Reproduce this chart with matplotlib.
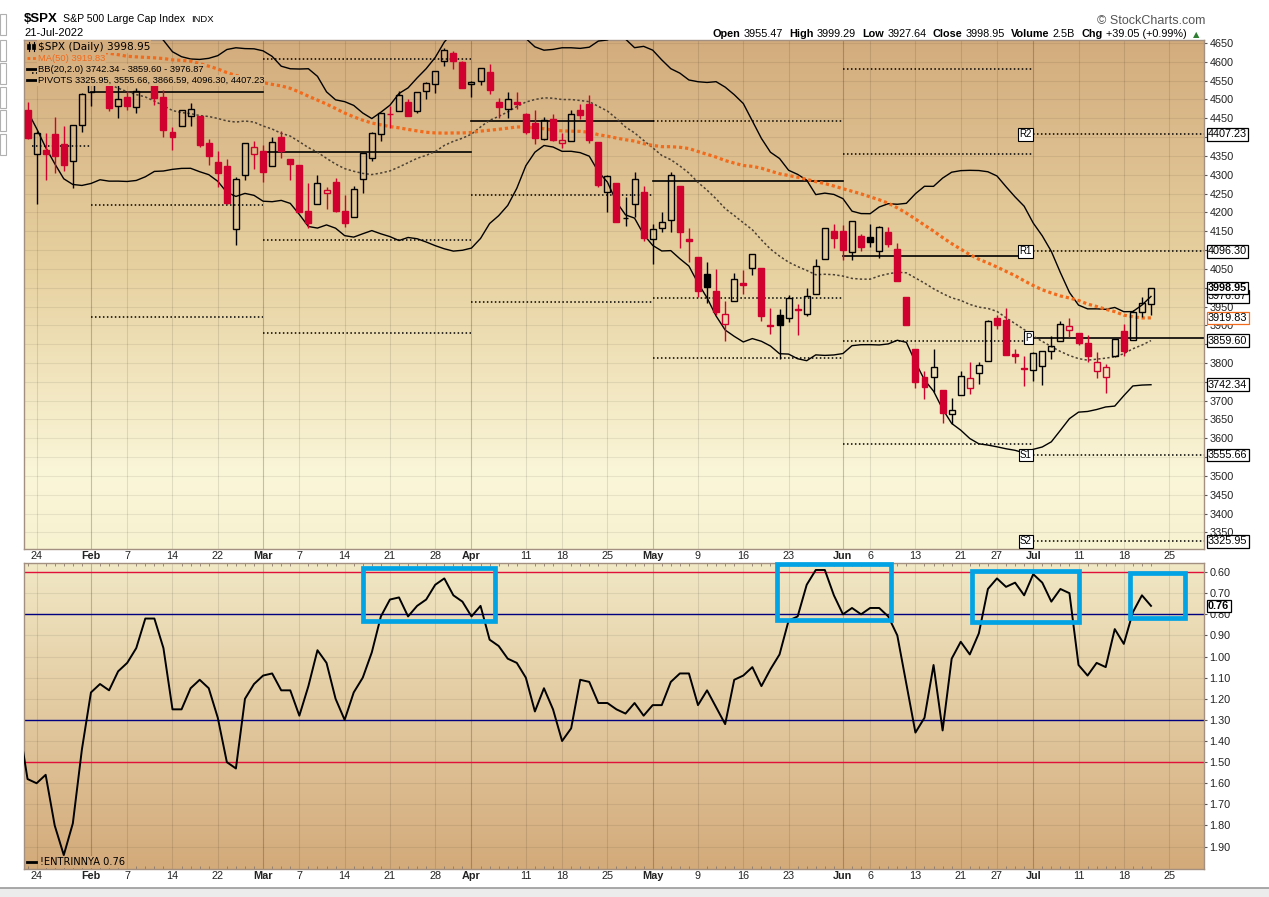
import numpy as np
import pandas as pd
import matplotlib
matplotlib.use("Agg")
import matplotlib.pyplot as plt
from matplotlib.patches import Rectangle
from matplotlib.lines import Line2D
from matplotlib.offsetbox import TextArea, HPacker, AnnotationBbox
import matplotlib.transforms as mtransforms

plt.rcParams['font.family'] = ['Liberation Sans', 'DejaVu Sans']

# ---------------- data ----------------
holidays = ["2022-02-21", "2022-04-15", "2022-05-30", "2022-06-20", "2022-07-04"]
cal = pd.bdate_range("2022-01-21", "2022-07-29", freq="C", holidays=holidays)

opens = [
    4471.38, 4356.32, 4366.64, 4408.43, 4380.58, 4336.19, 4431.79,
    4519.57, 4566.39, 4535.41, 4482.79, 4505.75, 4480.02, 4547.00, 4553.24, 4506.27, 4412.61,
    4429.28, 4455.75, 4456.06, 4384.57, 4332.74, 4324.01, 4155.77, 4298.38, 4354.17,
    4363.14, 4322.56, 4401.31, 4342.12, 4327.01, 4202.66, 4223.10, 4252.55, 4279.50, 4202.75,
    4188.82, 4288.14, 4345.11, 4407.34, 4462.40, 4469.10, 4493.10, 4469.98, 4522.66, 4541.09,
    4602.86, 4624.20, 4599.02,
    4540.32, 4547.97, 4572.45, 4494.17, 4474.65, 4494.15, 4462.64, 4437.59, 4394.30, 4449.12,
    4385.63, 4390.63, 4472.26, 4489.17, 4385.83, 4255.34, 4278.14, 4186.52, 4222.58, 4253.75,
    4130.61, 4159.78, 4181.18, 4270.43, 4128.17, 4081.27, 4035.18, 3990.08, 3903.95, 3963.90,
    4013.02, 4052.00, 4051.98, 3899.00, 3927.76, 3919.42, 3942.94, 3929.59, 3984.60, 4077.43, 4151.09,
    4149.78, 4095.41, 4137.57, 4134.72, 4096.47, 4147.12, 4101.65, 3974.39, 3838.15, 3763.52,
    3764.05, 3728.18, 3665.90, 3715.31, 3733.89, 3774.71, 3805.34, 3920.76, 3913.00, 3825.09, 3785.99,
    3781.00, 3792.61, 3831.98, 3858.85, 3888.26, 3880.94, 3851.95, 3779.67, 3763.99, 3818.00,
    3883.79, 3860.73, 3935.32, 3955.47]
highs = [
    4494.52, 4417.35, 4411.01, 4453.23, 4428.74, 4432.72, 4516.89,
    4550.49, 4595.31, 4542.88, 4539.66, 4521.86, 4531.32, 4590.03, 4588.92, 4526.33, 4426.22,
    4472.77, 4489.55, 4456.06, 4394.60, 4362.12, 4341.51, 4294.73, 4385.34, 4388.84,
    4378.45, 4401.48, 4416.78, 4342.12, 4327.01, 4276.94, 4299.40, 4268.28, 4291.01, 4247.57,
    4271.05, 4358.90, 4412.67, 4465.40, 4481.75, 4522.00, 4501.07, 4520.58, 4546.03, 4575.65,
    4637.30, 4627.77, 4603.07,
    4548.70, 4583.50, 4593.45, 4503.94, 4521.16, 4520.41, 4464.35, 4471.00, 4453.92, 4460.46,
    4410.31, 4471.03, 4488.29, 4512.94, 4385.83, 4299.02, 4278.14, 4240.71, 4308.45, 4269.68,
    4169.81, 4200.10, 4307.66, 4270.43, 4157.69, 4081.27, 4068.82, 4049.09, 3964.80, 4038.88,
    4046.46, 4090.72, 4051.98, 3945.96, 3943.42, 3981.88, 3955.68, 3999.33, 4075.14, 4158.49, 4168.34,
    4166.54, 4177.51, 4142.67, 4168.78, 4164.86, 4160.14, 4119.10, 3974.39, 3838.15, 3778.18,
    3837.56, 3728.18, 3707.71, 3779.65, 3801.79, 3802.58, 3913.65, 3927.72, 3945.86, 3836.50, 3818.99,
    3829.82, 3832.19, 3870.91, 3910.63, 3918.50, 3880.94, 3873.41, 3829.44, 3796.41, 3863.62,
    3902.44, 3939.81, 3974.13, 3999.29]
lows = [
    4395.34, 4222.62, 4287.11, 4304.80, 4309.50, 4264.71, 4414.02,
    4483.53, 4544.32, 4470.39, 4451.50, 4471.47, 4465.40, 4547.00, 4484.31, 4401.41, 4364.84,
    4429.28, 4429.68, 4373.81, 4327.22, 4267.11, 4221.51, 4114.65, 4286.83, 4315.12,
    4279.54, 4322.56, 4345.56, 4284.98, 4199.85, 4157.87, 4223.10, 4209.80, 4200.49, 4161.72,
    4187.90, 4251.99, 4335.65, 4390.57, 4424.30, 4469.10, 4455.81, 4465.17, 4501.07, 4517.69,
    4589.66, 4581.32, 4530.41,
    4507.57, 4539.21, 4514.17, 4450.04, 4450.30, 4474.60, 4408.38, 4381.34, 4392.70, 4390.77,
    4370.30, 4390.63, 4448.76, 4384.47, 4267.62, 4200.82, 4175.04, 4162.90, 4188.63, 4124.28,
    4062.51, 4147.08, 4148.91, 4106.01, 4067.91, 3975.48, 3958.17, 3928.82, 3858.87, 3963.90,
    3983.99, 4033.93, 3911.91, 3876.58, 3810.32, 3909.04, 3875.13, 3925.03, 3984.60, 4077.43, 4104.88,
    4073.85, 4074.37, 4098.67, 4109.18, 4080.19, 4107.20, 4017.17, 3900.16, 3734.30, 3705.68,
    3722.30, 3639.77, 3636.87, 3715.31, 3717.69, 3743.52, 3805.34, 3889.66, 3820.14, 3799.02, 3738.67,
    3752.10, 3742.06, 3809.37, 3858.85, 3869.34, 3847.22, 3802.36, 3759.07, 3721.56, 3817.18,
    3818.63, 3860.73, 3922.03, 3927.64]
closes = [
    4397.94, 4410.13, 4356.45, 4349.93, 4326.51, 4431.85, 4515.55,
    4546.54, 4589.38, 4477.44, 4500.53, 4483.87, 4521.54, 4587.18, 4504.08, 4418.64, 4401.67,
    4471.07, 4475.01, 4380.26, 4348.87, 4304.76, 4225.50, 4288.70, 4384.65, 4373.94,
    4306.26, 4386.54, 4363.49, 4328.87, 4201.09, 4170.70, 4277.88, 4259.52, 4204.31, 4173.11,
    4262.45, 4357.86, 4411.67, 4463.12, 4461.18, 4511.61, 4456.24, 4520.16, 4543.06, 4575.52,
    4631.60, 4602.45, 4530.41,
    4545.86, 4582.64, 4525.12, 4481.15, 4500.21, 4488.28, 4412.53, 4397.45, 4446.59, 4392.59,
    4391.69, 4462.21, 4459.45, 4393.66, 4271.78, 4296.12, 4175.20, 4183.96, 4287.50, 4131.93,
    4155.38, 4175.48, 4300.17, 4146.87, 4123.34, 3991.24, 4001.05, 3935.18, 3930.08, 4023.89,
    4008.01, 4088.85, 3923.68, 3900.79, 3901.36, 3973.75, 3941.48, 3978.73, 4057.84, 4158.24, 4132.15,
    4101.23, 4176.82, 4108.54, 4121.43, 4160.68, 4115.77, 4017.82, 3900.86, 3749.63, 3735.48,
    3789.99, 3666.77, 3674.84, 3764.79, 3759.89, 3795.73, 3911.74, 3900.11, 3821.55, 3818.83, 3785.38,
    3825.33, 3831.39, 3845.08, 3902.62, 3899.38, 3854.43, 3818.80, 3801.78, 3790.38, 3863.16,
    3830.85, 3936.69, 3959.90, 3998.95]

# closes before the visible window (Nov 1 2021 - Jan 20 2022), used by MA(50) and BB(20)
warmup_closes = [
    4613.67, 4630.65, 4660.57, 4680.06, 4697.53, 4701.70, 4685.25, 4646.71, 4649.27, 4682.85,
    4682.80, 4700.90, 4688.67, 4704.54, 4697.96, 4682.94, 4690.70, 4701.46, 4594.62, 4655.27, 4567.00,
    4513.04, 4577.10, 4538.43, 4591.67, 4686.75, 4701.21, 4667.45, 4712.02, 4668.97, 4634.09,
    4709.85, 4668.67, 4620.64, 4568.02, 4649.23, 4696.56, 4725.79, 4791.19, 4786.35, 4793.06,
    4778.73, 4766.18,
    4796.56, 4793.54, 4700.58, 4696.05, 4677.03, 4670.29, 4713.07, 4726.35, 4659.03, 4662.85,
    4577.11, 4532.76, 4482.73]

# prior-month high/low/close for the pivots of Jan and Feb
dec_hlc = (4808.93, 4495.12, 4766.18)
jan_hlc = (4818.62, 4222.62, 4515.55)

# NYSE TRIN, Jan 20 - Jul 21
trin = [1.31,
    1.58, 1.60, 1.56, 1.80, 1.94, 1.79, 1.44,
    1.17, 1.13, 1.16, 1.07, 1.03, 0.96, 0.82, 0.82, 0.96, 1.25, 1.25, 1.15, 1.11, 1.15, 1.29,
    1.50, 1.53, 1.20, 1.13,
    1.09, 1.08, 1.16, 1.16, 1.28, 1.14, 0.97, 1.03, 1.20, 1.30, 1.17, 1.10, 0.98, 0.81, 0.73,
    0.72, 0.81, 0.76, 0.73, 0.66, 0.63, 0.71, 0.74,
    0.81, 0.76, 0.92, 0.95, 1.01, 1.03, 1.10, 1.26, 1.15, 1.25, 1.40, 1.34, 1.11, 1.12, 1.22,
    1.22, 1.25, 1.27, 1.22, 1.28,
    1.23, 1.23, 1.12, 1.08, 1.08, 1.23, 1.16, 1.24, 1.32, 1.11, 1.09, 1.05, 1.14, 1.06, 0.99,
    0.83, 0.81, 0.66, 0.59, 0.59, 0.71,
    0.80, 0.77, 0.80, 0.77, 0.77, 0.81, 0.90, 1.13, 1.36, 1.29, 1.04, 1.35, 1.01, 0.93, 0.99,
    0.89, 0.68, 0.63, 0.67, 0.65, 0.71,
    0.61, 0.65, 0.74, 0.68, 0.70, 1.04, 1.09, 1.03, 1.05, 0.87, 0.94, 0.79, 0.71, 0.76]

tick_days = ["2022-01-24", "2022-02-01", "2022-02-07", "2022-02-14", "2022-02-22", "2022-03-01",
             "2022-03-07", "2022-03-14", "2022-03-21", "2022-03-28", "2022-04-01", "2022-04-11",
             "2022-04-18", "2022-04-25", "2022-05-02", "2022-05-09", "2022-05-16", "2022-05-23",
             "2022-06-01", "2022-06-06", "2022-06-13", "2022-06-21", "2022-06-27", "2022-07-01",
             "2022-07-11", "2022-07-18", "2022-07-25"]
tick_text = ["24", "Feb", "7", "14", "22", "Mar", "7", "14", "21", "28", "Apr", "11", "18", "25",
             "May", "9", "16", "23", "Jun", "6", "13", "21", "27", "Jul", "11", "18", "25"]
month_names = ["Feb", "Mar", "Apr", "May", "Jun", "Jul"]

n = len(closes)
assert len(opens) == n and len(highs) == n and len(lows) == n and len(trin) == n + 1
dates = cal[:n]
x = np.arange(n)

# indicators
allc = pd.Series(warmup_closes + closes)
ma50 = allc.rolling(50).mean().to_numpy()[len(warmup_closes):]
bb_mid = allc.rolling(20).mean().to_numpy()[len(warmup_closes):]
bb_sd = allc.rolling(20).std(ddof=0).to_numpy()[len(warmup_closes):]
bb_up = bb_mid + 2 * bb_sd
bb_lo = bb_mid - 2 * bb_sd

df = pd.DataFrame({"h": highs, "l": lows, "c": closes}, index=dates)
mon = df.resample("MS").agg({"h": "max", "l": "min", "c": "last"})
prior = {1: dec_hlc, 2: jan_hlc}
for m in range(2, 7):
    r = mon[mon.index.month == m].iloc[0]
    prior[m + 1] = (r.h, r.l, r.c)

def pivots(h, l, c):
    p = (h + l + c) / 3
    return {"P": p, "R1": 2 * p - l, "S1": 2 * p - h, "R2": p + (h - l), "S2": p - (h - l)}

# ---------------- layout ----------------
W, H = 1269, 897
fig = plt.figure(figsize=(W / 100, H / 100), dpi=100)
fig.patch.set_facecolor("white")

def fx(px):
    return px / W

def fy(py):
    return 1 - py / H

ax1 = fig.add_axes([fx(24), fy(549), 1180 / W, 509 / H])
ax2 = fig.add_axes([fx(24), fy(869), 1180 / W, 306 / H])

XL = (-0.39, 129.85)
Y1 = (3306, 4658)
Y2 = (2.006, 0.557)

up_stops = [(0, (211, 172, 125)), (0.45, (231, 209, 160)), (0.85, (250, 246, 216)), (1, (247, 242, 208))]
lo_stops = [(0, (241, 232, 197)), (1, (211, 170, 122))]

def grad_color(stops, t):
    return tuple(np.interp(t, [s[0] for s in stops], [s[1][i] for s in stops]) / 255 for i in range(3))

def grad_img(stops):
    t = np.linspace(0, 1, 256)
    return np.array([grad_color(stops, v) for v in t])[:, None, :]

spine_col = "#a39080"
for ax, stops in ((ax1, up_stops), (ax2, lo_stops)):
    ax.imshow(grad_img(stops), extent=[0, 1, 0, 1], transform=ax.transAxes,
              aspect="auto", zorder=0, interpolation="bilinear")
    for s in ax.spines.values():
        s.set_color(spine_col)
        s.set_linewidth(1)

tick_x = [cal.get_loc(pd.Timestamp(d)) for d in tick_days]
for ax in (ax1, ax2):
    for tx, tt in zip(tick_x, tick_text):
        a = 0.22 if tt in month_names else 0.10
        ax.axvline(tx, color="black", alpha=a, lw=0.8, zorder=1)

for yv in np.arange(3350, 4651, 50):
    ax1.axhline(yv, color="black", alpha=0.07, lw=0.8, zorder=1)
for yv in np.arange(0.6, 1.95, 0.1):
    ax2.axhline(yv, color="black", alpha=0.07, lw=0.8, zorder=1)

# ---------------- price panel ----------------
RED = "#d0002f"

# monthly pivot lines
month_starts = {}
for m in range(1, 8):
    idx = np.where(dates.month == m)[0]
    month_starts[m] = idx[0]
month_starts[1] = 0.5
for m in range(1, 8):
    x0 = month_starts[m]
    x1 = month_starts[m + 1] if m < 7 else XL[1]
    for k, v in pivots(*prior[m]).items():
        if k == "P":
            ax1.plot([x0, x1], [v, v], color="black", lw=1.2, zorder=2)
        else:
            ax1.plot([x0, x1], [v, v], color="black", lw=1.1, ls=(0, (1, 1.6)), zorder=2)

jul = pivots(*prior[7])
for k in ("R2", "R1", "P", "S1", "S2"):
    ax1.text(month_starts[7] - 0.15, jul[k], k, ha="right", va="center", fontsize=7, zorder=7,
             bbox=dict(boxstyle="square,pad=0.15", fc="white", ec="black", lw=0.8))

ax1.plot(x, bb_up, color="black", lw=1.0, zorder=3)
ax1.plot(x, bb_lo, color="black", lw=1.0, zorder=3)
ax1.plot(x, bb_mid, color="#4a4035", lw=1.1, ls=(0, (1.5, 1.5)), zorder=3)
ax1.plot(x, ma50, color="#f26a1b", lw=2.3, ls=(0, (1, 0.9)), zorder=3)

prev = [warmup_closes[-1]] + closes[:-1]
for i in range(n):
    o, h, l, c = opens[i], highs[i], lows[i], closes[i]
    col = RED if c < prev[i] else "black"
    filled = c < o
    lo_b, hi_b = min(o, c), max(o, c)
    ax1.vlines(x[i], l, lo_b, color=col, lw=1.0, zorder=4)
    ax1.vlines(x[i], hi_b, h, color=col, lw=1.0, zorder=4)
    ax1.bar(x[i], max(hi_b - lo_b, 0.8), bottom=lo_b, width=0.66,
            facecolor=col if filled else "none", edgecolor=col, linewidth=1.0, zorder=4)

ax1.set_xlim(XL)
ax1.set_ylim(Y1)
ax1.set_xticks([])
ax1.yaxis.tick_right()
ax1.set_yticks(np.arange(3350, 4651, 50))
ax1.tick_params(axis="y", labelsize=7.8, length=2.5, pad=1.5, color="#555555", labelcolor="#222222")

# boxed values at the right edge
bt = mtransforms.blended_transform_factory(ax1.transAxes, ax1.transData)
right_boxes = [
    (jul["R2"], "black", "normal", 8),
    (jul["R1"], "black", "normal", 8),
    (bb_up[-1], "black", "normal", 8),
    (closes[-1], "black", "bold", 9),
    (ma50[-1], "#f26a1b", "normal", 8),
    (bb_mid[-1], "black", "normal", 8),
    (bb_lo[-1], "black", "normal", 8),
    (jul["S1"], "black", "normal", 8),
    (jul["S2"], "black", "normal", 8),
]
for v, ec, fw, z in right_boxes:
    ax1.text(1.0 + 4 / 1180, v, f"{v:.2f}", transform=bt, ha="left", va="center",
             fontsize=7.8, fontweight=fw, zorder=z, clip_on=False,
             bbox=dict(boxstyle="square,pad=0.12", fc="white", ec=ec, lw=0.9))

# legend rows (the main series row uses a wider Verdana-like face)
rows = [
    (46.5, f"$SPX (Daily) {closes[-1]:.2f}", "black", 7.6, "DejaVu Sans"),
    (58.5, f"MA(50) {ma50[-1]:.2f}", "#f26a1b", 6.75, "Liberation Sans"),
    (69.5, f"BB(20,2.0) {bb_lo[-1]:.2f} - {bb_mid[-1]:.2f} - {bb_up[-1]:.2f}", "black", 6.75,
     "Liberation Sans"),
    (80.5, "PIVOTS " + ", ".join(f"{jul[k]:.2f}" for k in ("S2", "S1", "P", "R1", "R2")), "black",
     6.75, "Liberation Sans"),
]
for py, txt, col, fs, fam in rows:
    bg = grad_color(up_stops, (py - 40) / 509)
    fig.text(fx(38), fy(py), txt, color=col, ha="left", va="center", zorder=6, fontsize=fs,
             family=fam, bbox=dict(boxstyle="square,pad=0.1", fc=bg, ec="none"))
fig.add_artist(Line2D([fx(27), fx(36)], [fy(58.5), fy(58.5)], color="#f26a1b", lw=2, ls=(0, (1, 1))))
fig.add_artist(Line2D([fx(27), fx(36)], [fy(69.5), fy(69.5)], color="black", lw=2))
fig.add_artist(Line2D([fx(27), fx(36)], [fy(80.5), fy(80.5)], color="black", lw=2))
for cx in (28.5, 33.5):
    fig.add_artist(Line2D([fx(cx), fx(cx)], [fy(42), fy(51)], color="black", lw=0.8))
    fig.add_artist(Rectangle((fx(cx - 1.5), fy(49)), 3 / W, 5 / H, fc="black", ec="black", lw=0.5))

# ---------------- TRIN panel ----------------
ax2.axhline(0.60, color="#e0103a", lw=1.0, zorder=2)
ax2.axhline(1.50, color="#e0103a", lw=1.0, zorder=2)
ax2.axhline(0.80, color="#000080", lw=1.0, zorder=2)
ax2.axhline(1.30, color="#000080", lw=1.0, zorder=2)
ax2.plot(np.arange(-1, n), trin, color="black", lw=1.4, zorder=4)

for x0, x1, y0, y1 in [(37.0, 51.6, 0.83, 0.58), (82.7, 95.3, 0.826, 0.56),
                       (104.2, 116.05, 0.836, 0.594), (121.7, 127.8, 0.817, 0.603)]:
    ax2.add_patch(Rectangle((x0, y1), x1 - x0, y0 - y1, fill=False, ec="#02a3e4",
                            lw=3.4, zorder=5, clip_on=False, joinstyle="miter"))

ax2.set_xlim(XL)
ax2.set_ylim(Y2)
ax2.yaxis.tick_right()
ax2.set_yticks(np.arange(0.6, 1.95, 0.1))
ax2.set_yticklabels([f"{v:.2f}" for v in np.arange(0.6, 1.95, 0.1)])
ax2.tick_params(axis="y", labelsize=7.8, length=2.5, pad=1.5, color="#555555", labelcolor="#222222")
ax2.set_xticks(tick_x)
ax2.set_xticklabels(tick_text)
ax2.tick_params(axis="x", labelsize=7.8, length=0, pad=1.5, labeltop=True, labelbottom=True,
                labelcolor="#222222")
for lab in ax2.get_xticklabels(which="both"):
    if lab.get_text() in month_names:
        lab.set_fontweight("bold")
ax2.set_xticks(x, minor=True)
ax2.tick_params(axis="x", which="minor", length=2, direction="in", top=True, bottom=True,
                color="#8a7a6a", width=0.6)

ax2.text(1.0 + 4 / 1180, trin[-1], f"{trin[-1]:.2f}", transform=mtransforms.blended_transform_factory(
    ax2.transAxes, ax2.transData), ha="left", va="center", fontsize=7.8, fontweight="bold",
    zorder=8, clip_on=False, bbox=dict(boxstyle="square,pad=0.12", fc="white", ec="black", lw=0.9))

bg2 = grad_color(lo_stops, (862 - 563) / 306)
fig.text(fx(40), fy(862), f"!ENTRINNYA {trin[-1]:.2f}", ha="left", va="center", zorder=6,
         fontsize=7.1, family="DejaVu Sans", bbox=dict(boxstyle="square,pad=0.1", fc=bg2, ec="none"))
fig.add_artist(Line2D([fx(27), fx(36)], [fy(862), fy(862)], color="black", lw=2))

# ---------------- header ----------------
hdr = HPacker(children=[
    TextArea("$SPX", textprops=dict(fontsize=9.5, fontweight="bold")),
    TextArea("S&P 500 Large Cap Index", textprops=dict(fontsize=7.6)),
    TextArea("INDX", textprops=dict(fontsize=6.8)),
], align="baseline", pad=0, sep=4)
fig.add_artist(AnnotationBbox(hdr, (fx(24), fy(19)), xycoords="figure fraction",
                              box_alignment=(0, 0.5), frameon=False, pad=0))
fig.text(fx(24), fy(33.5), "21-Jul-2022", fontsize=8, ha="left", va="center")
fig.text(fx(1205), fy(21), "\u00a9 StockCharts.com", fontsize=9, ha="right", va="center",
         color="#555555")

chg = closes[-1] - closes[-2]
pairs = [("Open", f"{opens[-1]:.2f}"), ("High", f"{highs[-1]:.2f}"), ("Low", f"{lows[-1]:.2f}"),
         ("Close", f"{closes[-1]:.2f}"), ("Volume", "2.5B"),
         ("Chg", f"+{chg:.2f} (+{chg / closes[-2] * 100:.2f}%)")]
items = []
for lab, val in pairs:
    items.append(HPacker(children=[TextArea(lab, textprops=dict(fontsize=7.8, fontweight="bold")),
                                   TextArea(val, textprops=dict(fontsize=7.8))],
                         align="baseline", pad=0, sep=2.5))
items.append(TextArea("\u25b2", textprops=dict(fontsize=6, color="#2e7d32", family="DejaVu Sans")))
ohlc = HPacker(children=items, align="baseline", pad=0, sep=4.3)
fig.add_artist(AnnotationBbox(ohlc, (fx(1199), fy(34)), xycoords="figure fraction",
                              box_alignment=(1, 0.5), frameon=False, pad=0))

# browser chrome bits at the edges of the screenshot
fig.add_artist(Rectangle((0, 0), 1, 9 / H, transform=fig.transFigure, fc="#ececec", ec="none"))
fig.add_artist(Line2D([0, 1], [fy(888), fy(888)], color="#9a9a9a", lw=1.2))
for py in (14, 40, 63, 87, 110, 134):
    fig.add_artist(Rectangle((0, fy(py + 21)), 6 / W, 21 / H, fc="white", ec="#b0b0b0", lw=0.8))

fig.savefig("out.png", dpi=100)
